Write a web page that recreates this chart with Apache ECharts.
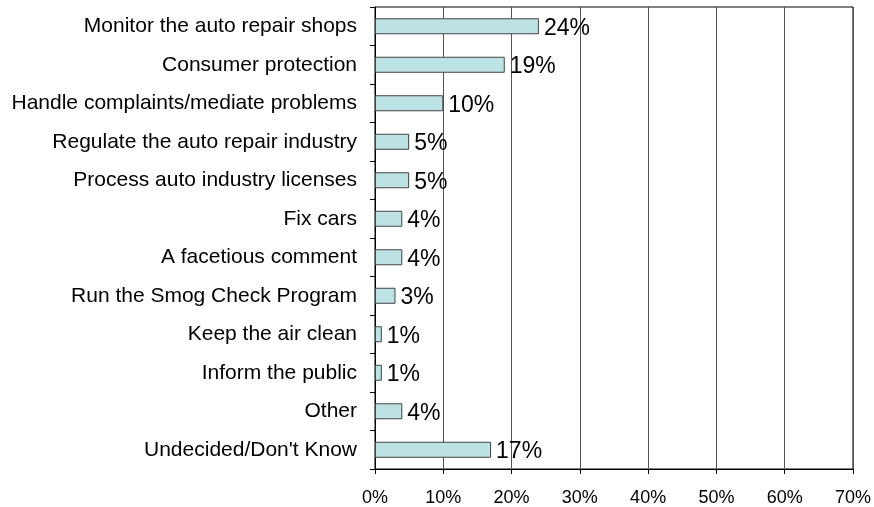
<html>
<head>
    <meta charset="utf-8">
    <title>Bar chart</title>
    <script src="https://cdn.jsdelivr.net/npm/echarts@6/dist/echarts.min.js"></script>
</head>
<body style="margin:0;background:#fff;">
<div id="main" style="width: 874px;height:507px;"></div>
<script type="text/javascript">
    // categories listed top to bottom
    var categories = [
        'Monitor the auto repair shops',
        'Consumer protection',
        'Handle complaints/mediate problems',
        'Regulate the auto repair industry',
        'Process auto industry licenses',
        'Fix cars',
        'A facetious comment',
        'Run the Smog Check Program',
        'Keep the air clean',
        'Inform the public',
        'Other',
        "Undecided/Don't Know"
    ];
    var values = [24, 19, 10, 5, 5, 4, 4, 3, 1, 1, 4, 17];
    var xTicks = [0, 10, 20, 30, 40, 50, 60, 70];

    var myChart = echarts.init(document.getElementById('main'));
    myChart.setOption({
        animation: false,
        grid: {
            left: 375, right: 20, top: 7, bottom: 38,
            show: true, borderColor: '#000', borderWidth: 1
        },
        xAxis: {
            type: 'value',
            min: xTicks[0],
            max: xTicks[xTicks.length - 1],
            interval: 10,
            axisLine: {show: true, lineStyle: {color: '#000'}},
            axisTick: {show: true, length: 5, lineStyle: {color: '#000'}},
            splitLine: {show: true, lineStyle: {color: '#555'}},
            axisLabel: {
                color: '#000', fontSize: 18, fontFamily: 'Liberation Sans', margin: 20,
                formatter: '{value}%'
            }
        },
        yAxis: {
            type: 'category',
            inverse: true,
            data: categories,
            axisLine: {show: true, lineStyle: {color: '#000'}},
            axisTick: {show: true, length: 5, lineStyle: {color: '#000'}},
            axisLabel: {color: '#000', fontSize: 21, fontFamily: 'Liberation Sans', margin: 18}
        },
        series: [{
            type: 'bar',
            data: values,
            barWidth: 16,
            itemStyle: {color: '#bde2e3', borderColor: '#444', borderWidth: 1},
            label: {
                show: true, position: 'right', distance: 5,
                color: '#000', fontSize: 23, fontFamily: 'Liberation Sans',
                formatter: '{c}%', offset: [0, 2]
            }
        }]
    });
</script>
</body>
</html>
